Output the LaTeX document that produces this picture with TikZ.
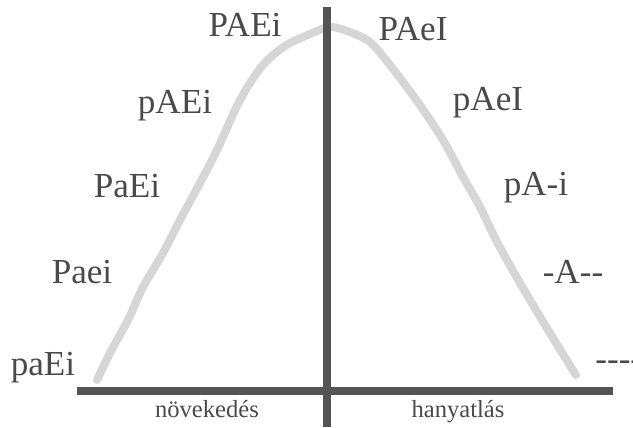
\documentclass[tikz,border=0pt]{standalone}
\usepackage{fontspec}
\setmainfont{Liberation Serif}
\usetikzlibrary{positioning}
\definecolor{axc}{HTML}{545454}
\definecolor{crv}{HTML}{D6D6D6}
\definecolor{txt}{HTML}{4A4A4A}
\tikzset{
  axis/.style={draw=axc,line width=4.8pt},
  curve/.style={draw=crv,line width=4.6pt,line cap=round,line join=round},
  stage/.style={anchor=base,inner sep=0pt,text=txt,font=\fontsize{20}{22}\selectfont},
  phase/.style={anchor=base,inner sep=0pt,text=txt,font=\fontsize{14}{16}\selectfont},
}
\begin{document}
\begin{tikzpicture}[x=0.02cm,y=-0.02cm]
  \useasboundingbox (0,0) rectangle (633,427);

  % the life curve
  \draw[curve] plot[smooth,tension=0.5] coordinates {
    (97,380) (110,353) (128,320) (143,287) (163,253) (180,220) (200,183)
    (217,150) (240,100) (262,66) (285,46) (310,34) (330,27) (350,32)
    (370,42) (386,60) (403,82) (422,108) (443,140) (462,175) (480,207)
    (496,240) (516,276) (536,310) (556,343) (576,375)};

  % axes
  \coordinate (xl) at (77,391);
  \coordinate (xr) at (613,391);
  \coordinate (yt) at (327,7);
  \coordinate (yb) at (327,427);
  \draw[axis] (xl) -- (xr);
  \draw[axis,line width=4.4pt] (yt) -- (yb);

  % growth side
  \node[stage] (g1) at (245,36)  {PAEi};
  \node[stage] (g2) at (175,113) {pAEi};
  \node[stage] (g3) at (127,197) {PaEi};
  \node[stage] (g4) at (82,283)  {Paei};
  \node[stage] (g5) at (43,375)  {paEi};

  % decline side
  \node[stage] (d1) at (413,40)  {PAeI};
  \node[stage] (d2) at (488,110) {pAeI};
  \node[stage] (d3) at (536,195) {pA-i};
  \node[stage] (d4) at (573,283) {-A-{}-};
  \node[stage,anchor=base west] (d5) at (595,370) {-{}-{}-{}-};

  \node[phase] (ph1) at (207,417) {növekedés};
  \node[phase] (ph2) at (458,417) {hanyatlás};
\end{tikzpicture}
\end{document}
